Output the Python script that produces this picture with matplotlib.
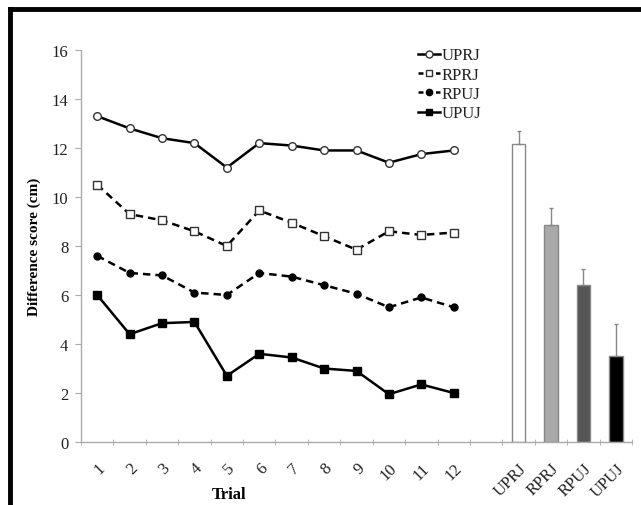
import matplotlib
matplotlib.use("Agg")
import matplotlib.pyplot as plt
from matplotlib.lines import Line2D
import numpy as np

plt.rcParams['font.family'] = ['Liberation Serif', 'DejaVu Serif']

trials = ['1', '2', '3', '4', '5', '6', '7', '8', '9', '10', '11', '12']
uprj = [13.3, 12.8, 12.4, 12.2, 11.2, 12.2, 12.1, 11.9, 11.9, 11.4, 11.75, 11.9]
rprj = [10.5, 9.3, 9.05, 8.6, 8.0, 9.45, 8.95, 8.4, 7.85, 8.6, 8.45, 8.55]
rpuj = [7.6, 6.9, 6.8, 6.1, 6.0, 6.9, 6.75, 6.4, 6.05, 5.5, 5.9, 5.5]
upuj = [6.0, 4.4, 4.85, 4.9, 2.7, 3.6, 3.45, 3.0, 2.9, 1.95, 2.35, 2.0]

conditions = ['UPRJ', 'RPRJ', 'RPUJ', 'UPUJ']
means = [12.15, 8.85, 6.4, 3.5]
err_up = [0.55, 0.7, 0.65, 1.3]
bar_colors = ['white', '#a9a9a9', '#555555', '#000000']

fig = plt.figure(figsize=(6.41, 5.06), dpi=100)
ax = fig.add_axes([81/641, 1 - 443/506, (632 - 81)/641, (443 - 51)/506])

x_line = np.arange(len(trials))
ax.plot(x_line, uprj, '-', color='black', lw=1.8, marker='o', ms=5.5,
        mfc='white', mec='#333333', mew=1.0, label='UPRJ')
ax.plot(x_line, rprj, '--', color='black', lw=1.8, marker='s', ms=5.5,
        mfc='white', mec='#333333', mew=1.0, label='RPRJ', dashes=(3, 2))
ax.plot(x_line, rpuj, '--', color='black', lw=1.8, marker='o', ms=5,
        mfc='black', mec='black', label='RPUJ', dashes=(3, 2))
ax.plot(x_line, upuj, '-', color='black', lw=1.8, marker='s', ms=5.5,
        mfc='black', mec='black', label='UPUJ')

x_bar = np.arange(len(trials) + 1, len(trials) + 1 + len(conditions))
ax.bar(x_bar, means, width=0.42, color=bar_colors, edgecolor='#888888', lw=1.0,
       yerr=[np.zeros(len(means)), err_up], ecolor='#888888',
       error_kw=dict(lw=1.0, capsize=1.5, capthick=1.0))

labels = trials + [''] + conditions
ax.set_xlim(-0.5, len(labels) - 0.5)
ax.set_ylim(0, 16)
ax.set_yticks(np.arange(0, 17, 2))
ax.set_xticks(np.arange(len(labels)))
ax.set_xticklabels(labels, rotation=45, ha='right', rotation_mode='anchor', fontsize=12,
                   color='#222222')
ax.set_xticks(np.arange(len(labels) + 1) - 0.5, minor=True)
ax.tick_params(axis='x', which='major', length=0, pad=13)
ax.tick_params(axis='x', which='minor', length=4, color='#aaaaaa', direction='inout')
ax.tick_params(axis='y', length=4, color='#aaaaaa', labelsize=12, pad=5, labelcolor='#222222')

for s in ['top', 'right']:
    ax.spines[s].set_visible(False)
for s in ['left', 'bottom']:
    ax.spines[s].set_color('#aaaaaa')
    ax.spines[s].set_linewidth(1.0)

ax.set_ylabel('Difference score (cm)', fontsize=11, fontweight='bold', labelpad=8)
fig.text(229/641, 1 - 495/506, 'Trial', fontsize=12, fontweight='bold', ha='center', va='center')

handles = [
    Line2D([], [], color='black', lw=1.8, marker='o', ms=5, mfc='white', mec='#333333'),
    Line2D([], [], color='black', lw=1.8, ls='--', dashes=(2, 1.5), marker='s', ms=5, mfc='white', mec='#333333'),
    Line2D([], [], color='black', lw=1.8, ls='--', dashes=(2, 1.5), marker='o', ms=4.5, mfc='black'),
    Line2D([], [], color='black', lw=1.8, marker='s', ms=5, mfc='black'),
]
fig.legend(handles, conditions, loc='upper left', bbox_to_anchor=(410/641, 1 - 40/506),
           frameon=False, fontsize=12, handlelength=1.3, handletextpad=0.1,
           labelspacing=0.2, borderpad=0, labelcolor='#222222')

# outer frame (left and top edges visible)
fig.add_artist(Line2D([10/641, 10/641], [0, 1 - 10/506], transform=fig.transFigure,
                      color='black', lw=3.5, solid_capstyle='projecting'))
fig.add_artist(Line2D([10/641, 1], [1 - 10/506, 1 - 10/506], transform=fig.transFigure,
                      color='black', lw=3.5, solid_capstyle='projecting'))

fig.savefig('out.png', dpi=100)
